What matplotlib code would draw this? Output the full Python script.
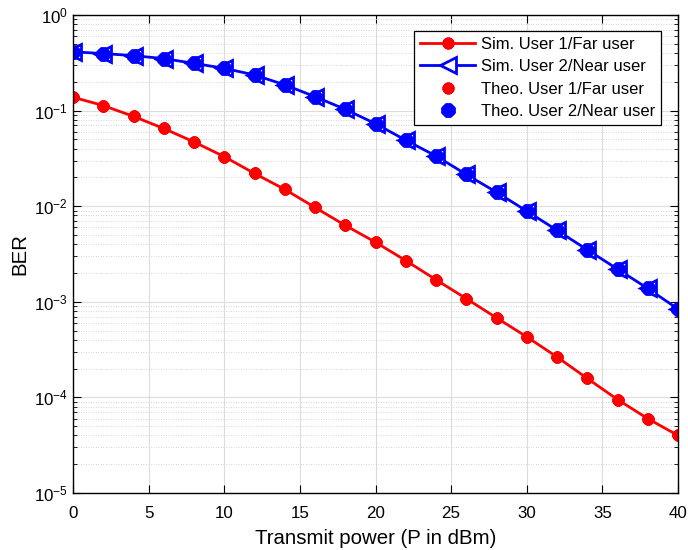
import numpy as np
import matplotlib.pyplot as plt
from matplotlib.ticker import LogLocator, NullFormatter

plt.rcParams['font.family'] = ['Liberation Sans', 'DejaVu Sans']
plt.rcParams['mathtext.fontset'] = 'custom'
plt.rcParams['mathtext.rm'] = 'Liberation Sans'
plt.rcParams['axes.unicode_minus'] = False

# transmit power (dBm)
power = np.arange(0, 41, 2)

# simulated BER
sim_far = [0.138, 0.113, 0.087, 0.065, 0.047, 0.033, 0.022, 0.015, 0.0097,
           0.0063, 0.0042, 0.0027, 0.0017, 0.00108, 6.8e-4, 4.3e-4,
           2.65e-4, 1.58e-4, 9.5e-5, 6.0e-5, 4.0e-5]
sim_near = [0.412, 0.395, 0.376, 0.35, 0.312, 0.277, 0.236, 0.186, 0.14,
            0.103, 0.073, 0.049, 0.0335, 0.0215, 0.014, 0.0089, 0.0056,
            0.0035, 0.0022, 0.00138, 8.4e-4]

# theoretical BER (lies on top of the simulation)
theo_far = list(sim_far)
theo_near = list(sim_near)

fig = plt.figure(figsize=(6.88, 5.5), dpi=100)
ax = fig.add_axes([73 / 688, 1 - 493 / 550, (678 - 73) / 688, (493 - 15) / 550])

ax.semilogy(power, sim_far, '-', color='red', lw=2, marker=(8, 2, 0),
            ms=8.5, mew=2.8, label='Sim. User 1/Far user')
ax.semilogy(power, sim_near, '-', color='blue', lw=2, marker='<',
            ms=12, mew=2, mfc='white', label='Sim. User 2/Near user')
ax.semilogy(power, theo_far, ' ', color='red', marker=(8, 2, 0),
            ms=8.5, mew=2.8, label='Theo. User 1/Far user')
ax.semilogy(power, theo_near, ' ', color='blue', marker=(8, 2, 0),
            ms=10, mew=4, label='Theo. User 2/Near user')

ax.set_xlim(0, 40)
ax.set_ylim(1e-5, 1)
ax.set_xticks(range(0, 41, 5))
ax.yaxis.set_major_locator(LogLocator(base=10, numticks=10))
ax.yaxis.set_minor_locator(LogLocator(base=10, subs=np.arange(2, 10), numticks=20))
ax.yaxis.set_minor_formatter(NullFormatter())

ax.grid(True, which='major', color='#dcdcdc', lw=0.8)
ax.grid(True, which='minor', axis='y', color='#c8c8c8', lw=0.6, ls=(0, (1, 2)))
ax.set_axisbelow(True)
ax.tick_params(which='both', direction='in', top=True, right=True, labelsize=12.2)
ax.tick_params(which='major', length=6)
ax.tick_params(which='minor', length=3)
ax.tick_params(axis='x', pad=9)
for s in ax.spines.values():
    s.set_linewidth(1.0)

ax.set_xlabel('Transmit power (P in dBm)', fontsize=14.7, labelpad=6)
ax.set_ylabel('BER', fontsize=14.7)
ax.yaxis.set_label_coords(-0.072, 0.5)

leg = ax.legend(loc='upper right', bbox_to_anchor=(661 / 688, 1 - 31 / 550),
                bbox_transform=fig.transFigure, borderaxespad=0,
                fontsize=12, fancybox=False, framealpha=1, edgecolor='black',
                handlelength=3.3, handletextpad=0.35, labelspacing=0.45,
                borderpad=0.35)
leg.get_frame().set_linewidth(0.9)

fig.savefig('out.png', dpi=100)
